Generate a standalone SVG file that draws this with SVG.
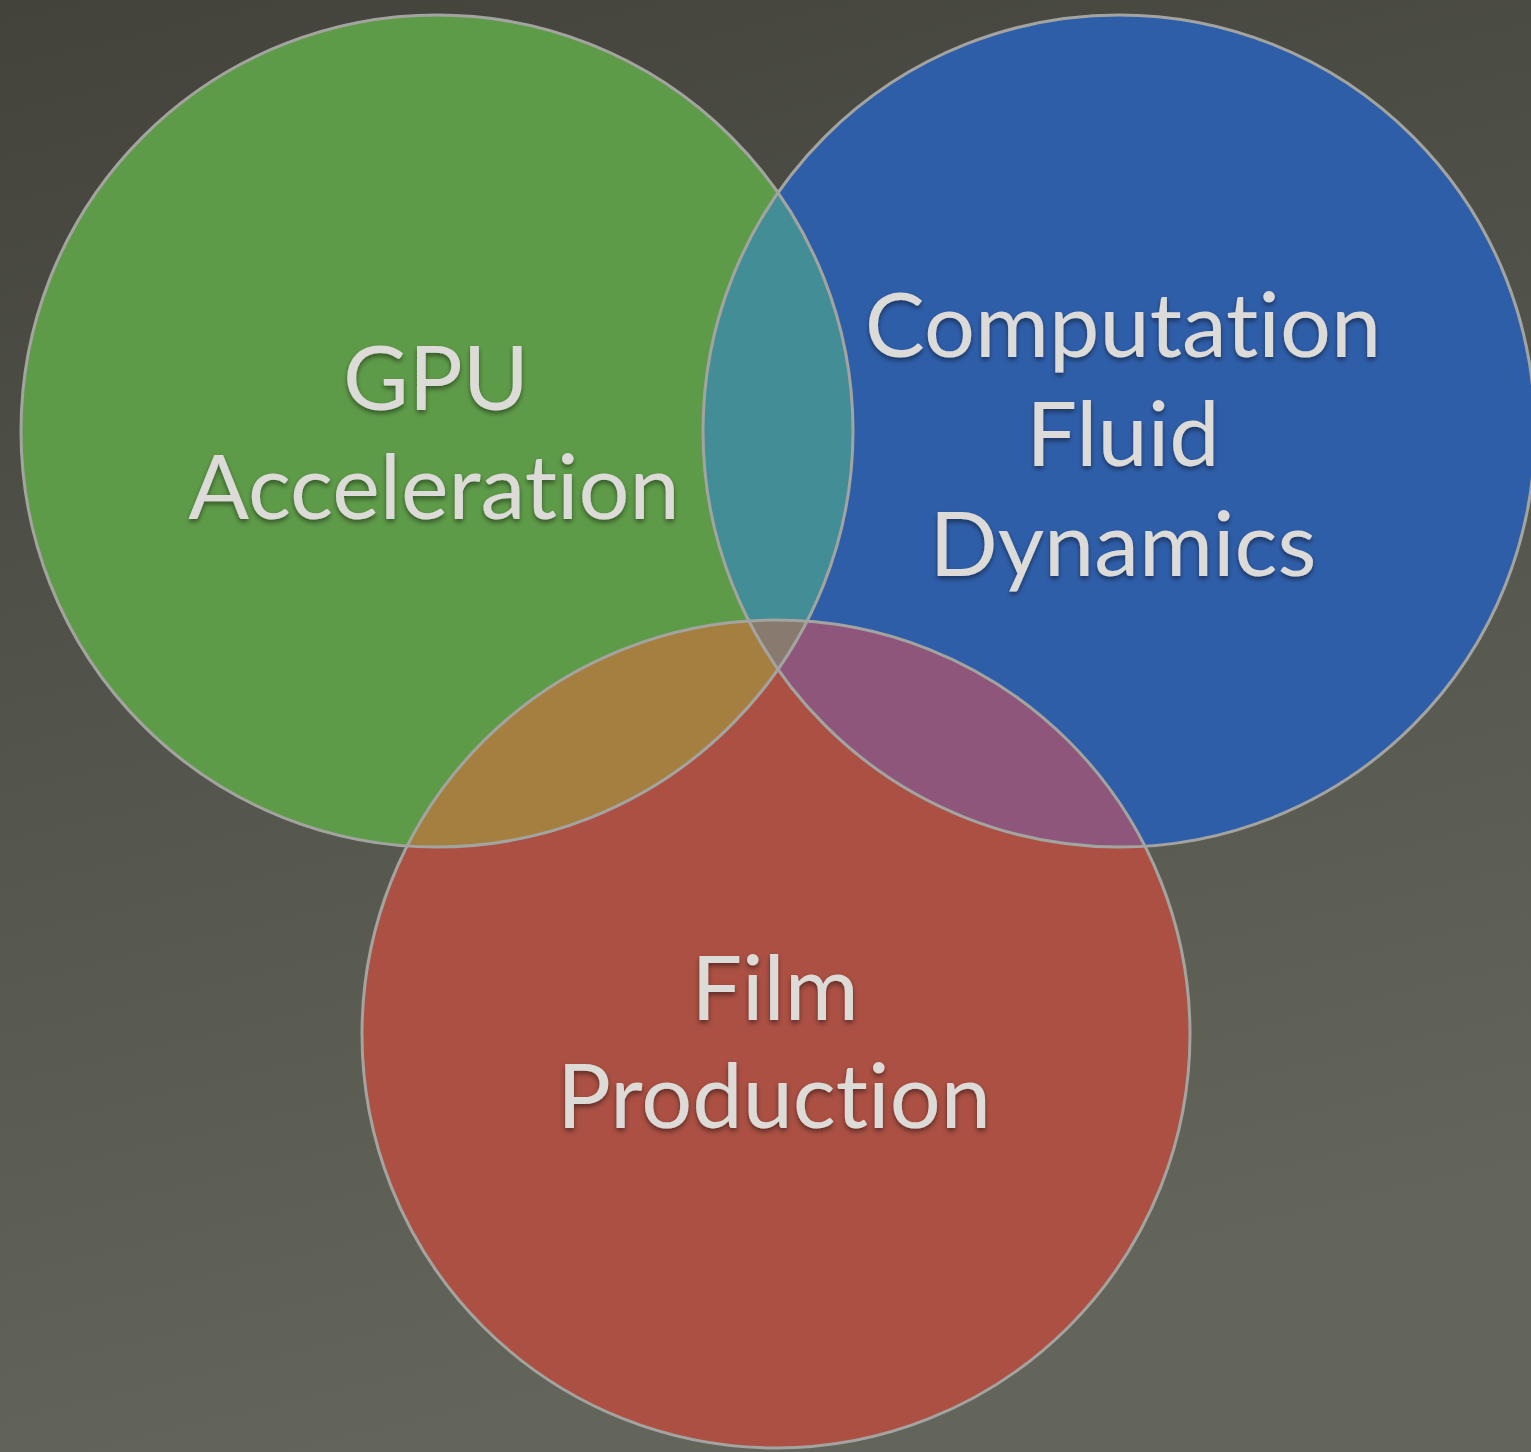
<svg xmlns="http://www.w3.org/2000/svg" width="1531" height="1452" viewBox="0 0 1531 1452">
  <defs>
    <linearGradient id="bg" x1="0" y1="0" x2="0.25" y2="1">
      <stop offset="0" stop-color="#43433c"/>
      <stop offset="1" stop-color="#63655a"/>
    </linearGradient>
    <clipPath id="clipGreen"><circle cx="437" cy="431" r="416"/></clipPath>
    <clipPath id="clipBlue"><circle cx="1119" cy="431" r="416"/></clipPath>
    <clipPath id="clipRed"><circle cx="776" cy="1034" r="414"/></clipPath>
    <filter id="shadow" x="-10%" y="-20%" width="120%" height="150%">
      <feDropShadow dx="0" dy="3" stdDeviation="2.5" flood-color="#000" flood-opacity="0.45"/>
    </filter>
    <style>
      .ring { fill: none; stroke: #a3a3a0; stroke-width: 3; }
      .label { font-family: "Lato", "Open Sans", sans-serif; font-size: 90px; fill: #dcdbd8; text-anchor: middle; font-variant-ligatures: none; filter: url(#shadow); }
    </style>
  </defs>

  <!-- backdrop -->
  <rect x="0" y="0" width="1531" height="1452" fill="url(#bg)"/>

  <!-- set fills -->
  <g id="gpu-acceleration">
    <circle cx="437" cy="431" r="416" fill="#5e9b48"/>
  </g>
  <g id="computation-fluid-dynamics">
    <circle cx="1119" cy="431" r="416" fill="#2f5ea9"/>
  </g>
  <g id="film-production">
    <circle cx="776" cy="1034" r="414" fill="#ab5043"/>
  </g>

  <!-- pairwise and triple overlaps -->
  <g id="overlaps">
    <g clip-path="url(#clipGreen)">
      <circle cx="1119" cy="431" r="416" fill="#428d96"/>
      <circle cx="776" cy="1034" r="414" fill="#a57f40"/>
    </g>
    <g clip-path="url(#clipBlue)">
      <circle cx="776" cy="1034" r="414" fill="#8e567a"/>
    </g>
    <g clip-path="url(#clipGreen)">
      <g clip-path="url(#clipBlue)">
        <circle cx="776" cy="1034" r="414" fill="#897a6f"/>
      </g>
    </g>
  </g>

  <!-- outlines -->
  <g id="outlines">
    <circle class="ring" cx="437" cy="431" r="416"/>
    <circle class="ring" cx="1119" cy="431" r="416"/>
    <circle class="ring" cx="776" cy="1034" r="414"/>
  </g>

  <!-- labels -->
  <g id="labels">
    <text class="label" x="436" y="410">GPU</text>
    <text class="label" x="434" y="519">Acceleration</text>
    <text class="label" x="1123" y="357">Computation</text>
    <text class="label" x="1123" y="466">Fluid</text>
    <text class="label" x="1123" y="576">Dynamics</text>
    <text class="label" x="775" y="1020">Film</text>
    <text class="label" x="774" y="1128">Production</text>
  </g>
</svg>
